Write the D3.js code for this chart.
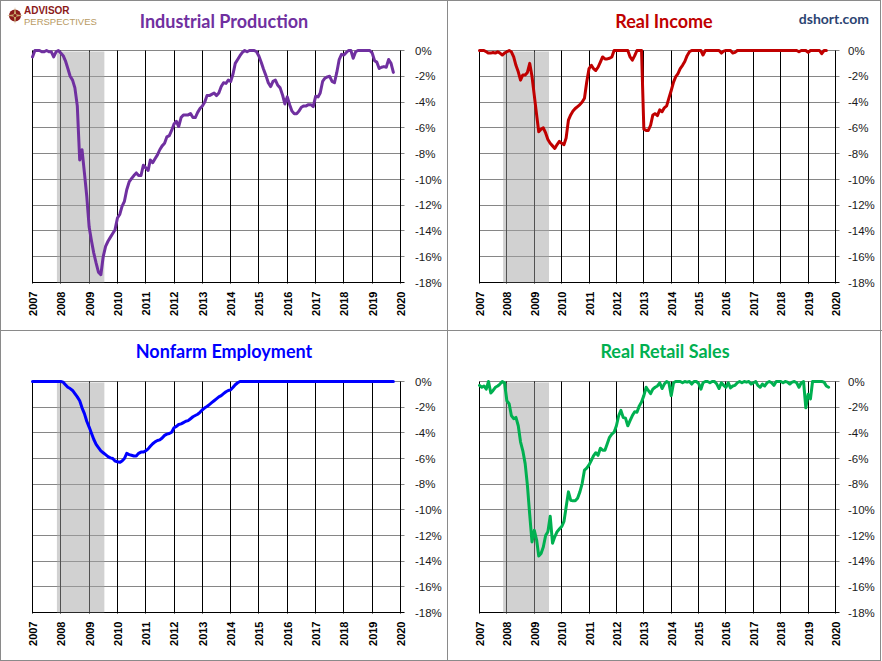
<!DOCTYPE html>
<html>
<head>
<meta charset="utf-8">
<script src="https://cdn.jsdelivr.net/npm/d3@7"></script>
<style>
	body { margin: 0; background: #fff; }
	svg { display: block; }
</style>
</head>
<body>
<svg id="chart" width="882" height="661"></svg>
<script>
// percent below previous peak, monthly from Jan 2007
const yearTicks = d3.range(2007, 2021);
const pctTicks = [0, -2, -4, -6, -8, -10, -12, -14, -16, -18];
const recession = [new Date(2007, 10, 12), new Date(2009, 6, 16)];

const ipValues = [
	-0.5, 0, 0, 0, -0.1, -0.1, 0, -0.1, -0.1, -0.5, -0.1, 0,
	-0.2, -0.4, -0.8, -1.4, -2.0, -2.3, -2.9, -4.3, -8.5, -7.7, -9.5, -11.3,
	-13.7, -14.8, -15.7, -16.5, -17.2, -17.4, -16.0, -15.2, -14.8, -14.5, -14.2, -13.9,
	-13.0, -12.7, -12.1, -11.7, -10.8, -10.2, -9.95, -9.7, -9.5, -9.7, -9.7, -8.9,
	-9.1, -9.3, -8.5, -8.7, -8.4, -8.1, -7.7, -7.4, -7.2, -6.7, -6.6, -6.2,
	-5.7, -5.5, -5.9, -5.2, -5.0, -5.0, -5.0, -4.9, -5.2, -5.2, -4.8, -4.5,
	-4.3, -4.0, -3.5, -3.5, -3.4, -3.3, -3.5, -3.3, -2.8, -2.5, -2.55, -2.3,
	-2.4, -1.8, -1.0, -0.7, -0.4, -0.15, 0, -0.1, 0, 0, 0, -0.1,
	-0.45, -0.95, -1.45, -1.95, -2.5, -2.8, -2.4, -2.3, -2.7, -2.9, -3.45, -4.15,
	-3.6, -4.2, -4.7, -4.9, -4.9, -4.7, -4.4, -4.3, -4.3, -4.2, -4.2, -4.35,
	-3.55, -3.6, -3.3, -2.4, -2.15, -2.05, -2.0, -2.4, -2.5, -1.7, -0.7, -0.3,
	-0.35, -0.15, 0, 0, -0.6, -0.1, 0, 0, 0, 0, 0, 0,
	-0.2, -0.8, -0.9, -1.4, -1.3, -1.25, -1.3, -0.7, -1.0, -1.7
];

const incomeValues = [
	0, 0, 0, -0.1, -0.2, -0.2, -0.15, -0.2, -0.1, -0.2, -0.35, -0.2,
	-0.1, 0, -0.1, -0.5, -1.15, -1.65, -2.3, -1.9, -1.9, -1.7, -1.0, -2.0,
	-3.5, -5.0, -6.3, -6.1, -6.0, -6.4, -6.9, -7.2, -7.4, -7.6, -7.3, -7.05,
	-7.2, -7.3, -6.8, -5.4, -5.0, -4.7, -4.5, -4.35, -4.2, -4.0, -3.7, -2.45,
	-1.4, -1.15, -1.4, -1.55, -1.3, -0.9, -0.5, -0.65, -0.65, -0.6, -0.5, 0,
	0, 0, 0, 0, 0, 0, -0.5, -0.75, -0.4, 0, 0, 0,
	-6.1, -6.2, -6.2, -5.8, -5.0, -4.9, -5.05, -4.6, -4.75, -4.45, -4.3, -3.7,
	-3.1, -2.45, -2.05, -1.8, -1.4, -1.15, -0.85, -0.4, -0.1, 0, 0, 0,
	0, 0, -0.35, 0, 0, 0, 0, 0, 0, 0, -0.2, -0.05,
	0, 0, 0, -0.2, -0.15, 0, 0, 0, 0, 0, 0, 0,
	0, 0, 0, 0, 0, 0, 0, 0, 0, 0, 0, 0,
	0, 0, 0, 0, 0, 0, 0, 0, -0.1, 0, 0, 0,
	-0.15, 0, 0, 0, 0, 0, -0.25, 0, 0
];

const payrollValues = [
	0, 0, 0, 0, 0, 0, 0, 0, 0, 0, 0, 0,
	0, -0.05, -0.25, -0.45, -0.55, -0.7, -0.95, -1.2, -1.5, -2.05, -2.5, -3.1,
	-3.55, -4.05, -4.5, -4.9, -5.15, -5.4, -5.55, -5.7, -5.85, -5.95, -6.0, -6.2,
	-6.25, -6.3, -6.2, -6.0, -5.6, -5.7, -5.75, -5.8, -5.8, -5.6, -5.5, -5.5,
	-5.4, -5.25, -5.05, -4.85, -4.7, -4.6, -4.55, -4.4, -4.2, -4.1, -4.05, -3.95,
	-3.6, -3.5, -3.35, -3.3, -3.2, -3.1, -3.05, -2.9, -2.75, -2.65, -2.55, -2.4,
	-2.2, -2.05, -1.95, -1.8, -1.65, -1.5, -1.35, -1.2, -1.1, -0.95, -0.8, -0.7,
	-0.65, -0.45, -0.25, -0.1, 0, 0, 0, 0, 0, 0, 0, 0,
	0, 0, 0, 0, 0, 0, 0, 0, 0, 0, 0, 0,
	0, 0, 0, 0, 0, 0, 0, 0, 0, 0, 0, 0,
	0, 0, 0, 0, 0, 0, 0, 0, 0, 0, 0, 0,
	0, 0, 0, 0, 0, 0, 0, 0, 0, 0, 0, 0,
	0, 0, 0, 0, 0, 0, 0, 0, 0, 0
];

const retailValues = [
	-0.3, -0.45, -0.35, -0.6, 0, -0.9, -0.7, -0.45, -0.35, -0.2, 0, -0.1,
	-1.5, -1.75, -2.65, -2.9, -2.8, -3.45, -4.7, -5.4, -6.4, -8.1, -10.4, -12.5,
	-11.6, -12.35, -13.6, -13.4, -12.9, -12.0, -11.7, -10.5, -12.6, -12.1, -11.7, -11.5,
	-11.3, -10.9, -9.8, -8.6, -9.25, -9.3, -9.3, -9.1, -8.6, -7.95, -6.9, -6.75,
	-6.5, -6.15, -5.8, -5.55, -5.75, -5.2, -5.35, -5.35, -4.85, -4.35, -4.1, -3.95,
	-3.45, -2.65, -2.25, -2.8, -2.85, -3.45, -3.05, -2.65, -2.35, -2.4, -1.9, -1.6,
	-1.1, -0.45, -0.7, -0.95, -0.6, -0.45, -0.35, -0.1, -0.55, -0.2, 0, -0.1,
	-1.1, -0.1, 0, 0, 0, -0.1, 0, -0.05, 0, -0.2, 0, 0,
	-0.15, -0.6, -0.1, 0, 0, -0.1, 0, 0, -0.2, -0.55, -0.1, -0.3,
	-0.45, -0.1, -0.5, -0.35, -0.3, -0.1, 0, -0.1, 0, -0.05, 0, -0.2,
	-0.1, 0, -0.3, -0.45, -0.2, -0.35, -0.1, 0, -0.1, -0.3, 0, 0,
	0, -0.1, 0, -0.05, -0.2, -0.05, 0, -0.1, -0.45, -0.1, 0, -2.05,
	-1.0, -1.35, 0, 0, 0, 0, 0, -0.05, -0.35, -0.45
];

// panel boxes (plot areas)
const panels = [
	{ title: "Industrial Production", color: "#7030A0", values: ipValues, left: 32.5, right: 400.5, top: 50.5, bottom: 282.5, labelX: 415, titleX: 224, titleY: 28 },
	{ title: "Real Income", color: "#C00000", values: incomeValues, left: 479.5, right: 835.5, top: 50.5, bottom: 282.5, labelX: 848, titleX: 664, titleY: 28 },
	{ title: "Nonfarm Employment", color: "#0000FF", values: payrollValues, left: 32.5, right: 400.5, top: 381.5, bottom: 612.5, labelX: 415, titleX: 224, titleY: 358 },
	{ title: "Real Retail Sales", color: "#00B050", values: retailValues, left: 479.5, right: 835.5, top: 381.5, bottom: 612.5, labelX: 848, titleX: 665, titleY: 358 }
];

const svg = d3.select("#chart");

//-----------------------------------
function drawPanel(p) {
	let g, x, y, data, line, snap;

	data = p.values.map((v, i) => ({ date: new Date(2007, i, 1), value: v }));
	x = d3.scaleTime().domain([new Date(2007, 0, 1), new Date(2020, 0, 1)]).range([p.left, p.right]);
	y = d3.scaleLinear().domain([0, -18]).range([p.top, p.bottom]);
	snap = v => Math.round(v - 0.5) + 0.5;   // keep 1px lines sharp

	g = svg.append("g");

	// horizontal gridlines + right ticks
	g.selectAll(".hgrid").data(pctTicks).enter().append("line")
		.attr("x1", p.left).attr("x2", p.right + 4)
		.attr("y1", d => snap(y(d))).attr("y2", d => snap(y(d)))
		.attr("stroke", d => d === -18 ? "#000" : "#868686")
		.attr("stroke-width", 1);

	// year lines
	g.selectAll(".vgrid").data(yearTicks).enter().append("line")
		.attr("x1", d => snap(x(new Date(d, 0, 1)))).attr("x2", d => snap(x(new Date(d, 0, 1))))
		.attr("y1", p.top).attr("y2", p.bottom + 1)
		.attr("stroke", "#000")
		.attr("stroke-width", 1);

	// recession
	g.append("rect")
		.attr("x", x(recession[0]))
		.attr("y", p.top + 1)
		.attr("width", x(recession[1]) - x(recession[0]))
		.attr("height", p.bottom - p.top - 1)
		.attr("fill", "#a4a4a4")
		.attr("opacity", 0.5);

	line = d3.line()
		.x(d => x(d.date))
		.y(d => y(d.value));

	g.append("path")
		.datum(data)
		.attr("d", line)
		.attr("fill", "none")
		.attr("stroke", p.color)
		.attr("stroke-width", 3)
		.attr("stroke-linejoin", "round")
		.attr("stroke-linecap", "round");

	// y labels on the right
	g.selectAll(".ylab").data(pctTicks).enter().append("text")
		.attr("x", p.labelX)
		.attr("y", d => y(d))
		.attr("dy", "0.36em")
		.attr("font-family", "Liberation Sans, Arial, sans-serif")
		.attr("font-size", "11.5px")
		.attr("fill", "#1a1a1a")
		.text(d => d + "%");

	// year labels (rotated)
	g.selectAll(".xlab").data(yearTicks).enter().append("text")
		.attr("transform", d => "translate(" + (x(new Date(d, 0, 1)) + 0.5) + "," + (p.bottom + 9) + ") rotate(-90)")
		.attr("text-anchor", "end")
		.attr("dy", "0.36em")
		.attr("font-family", "Liberation Sans, Arial, sans-serif")
		.attr("font-weight", "bold")
		.attr("font-size", "11px")
		.attr("fill", "#000")
		.text(d => d);

	g.append("text")
		.attr("x", p.titleX).attr("y", p.titleY)
		.attr("text-anchor", "middle")
		.attr("font-family", "Lato, sans-serif")
		.attr("font-weight", "bold")
		.attr("font-size", "18px")
		.attr("fill", p.color)
		.text(p.title);
}

//-----------------------------------
function drawFrame() {
	svg.append("rect")
		.attr("x", 0.5).attr("y", 0.5).attr("width", 880).attr("height", 660)
		.attr("fill", "none").attr("stroke", "#8a8a8a");
	svg.append("line").attr("x1", 447.5).attr("x2", 447.5).attr("y1", 0).attr("y2", 661)
		.attr("stroke", "#8a8a8a");
	svg.append("line").attr("x1", 0).attr("x2", 882).attr("y1", 330.5).attr("y2", 330.5)
		.attr("stroke", "#8a8a8a");
}

//-----------------------------------
function drawBranding() {
	let logo = svg.append("g");
	logo.append("rect").attr("x", 1).attr("y", 1).attr("width", 100).attr("height", 30).attr("fill", "#fff");
	logo.append("circle").attr("cx", 15).attr("cy", 15.5).attr("r", 6).attr("fill", "#8B1A1A");
	logo.append("path").attr("d", "M15,7 L16.2,14.3 L23,15.5 L16.2,16.7 L15,24 L13.8,16.7 L7,15.5 L13.8,14.3 Z")
		.attr("fill", "#C9A96E");
	logo.append("circle").attr("cx", 15).attr("cy", 15.5).attr("r", 1.6).attr("fill", "#8B1A1A");
	logo.append("text").attr("x", 24).attr("y", 14)
		.attr("font-family", "Liberation Sans, Arial, sans-serif").attr("font-weight", "bold")
		.attr("font-size", "10px").attr("fill", "#8B1A1A").text("ADVISOR");
	logo.append("text").attr("x", 24).attr("y", 25)
		.attr("font-family", "Liberation Sans, Arial, sans-serif")
		.attr("font-size", "9.5px").attr("fill", "#B89A62").text("PERSPECTIVES");

	svg.append("text").attr("x", 869).attr("y", 24)
		.attr("text-anchor", "end")
		.attr("font-family", "Lato, sans-serif").attr("font-weight", "bold")
		.attr("font-size", "14px").attr("fill", "#2B4472").text("dshort.com");
}

drawFrame();
panels.forEach(drawPanel);
drawBranding();
</script>
</body>
</html>
